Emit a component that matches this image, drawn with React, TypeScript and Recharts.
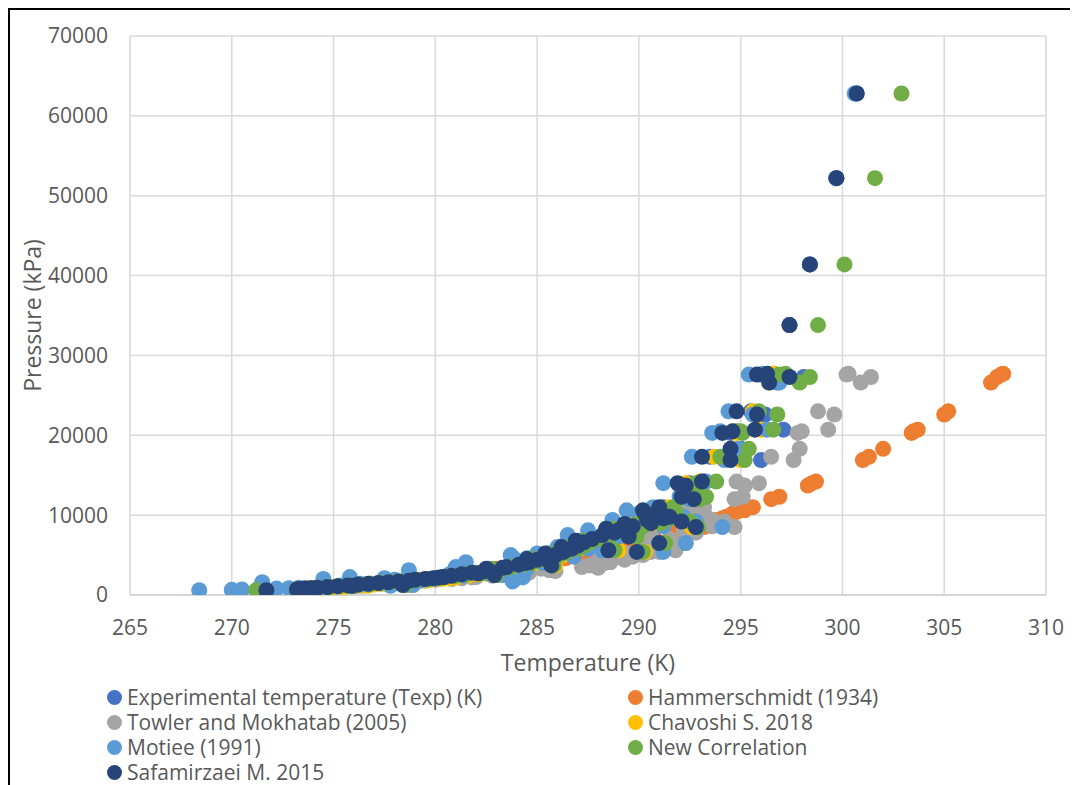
import React from 'react';
import { ScatterChart, Scatter, XAxis, YAxis, CartesianGrid, Label } from 'recharts';

const pressure = [62800,52200,41400,33800,27600,27700,26600,27300,23000,22600,20300,20500,20700,18300,17300,16900,14000,14200,13700,12300,12000,10600,10400,9800,9600,9400,9000,8600,8500,8100,7800,7500,7000,6600,6500,6200,5800,5400,5400,5000,4800,4600,4400,4100,4000,3800,3500,3400,3100,3000,2800,2600,2400,2250,2200,2100,2000,1800,1700,1600,1500,1400,1300,1200,1100,1000,900,850,800,750,700,650,600,
  1150,1900,2700,3300,4500,5200,6000,6800,7300,8300,8900,9200,10200,11000,5600,3700,2500,1250];

const tExp = [300.7,299.7,298.4,297.4,296.0,296.6,296.8,298.1,295.5,296.2,294.5,294.8,297.1,295.0,293.5,296.0,292.5,293.2,292.6,292.4,293.0,292.0,291.4,292.0,291.4,290.6,290.8,289.9,292.8,289.1,289.0,288.3,287.9,287.4,291.1,287.2,286.9,286.4,290.0,286.0,285.8,285.4,285.2,284.7,284.6,284.2,283.6,283.4,282.7,282.5,281.9,281.4,280.9,280.4,280.3,280.0,279.6,278.8,278.2,277.8,277.3,276.8,276.3,275.8,275.3,274.8,274.2,273.9,273.6,273.3,273.1,273.2,273.2,
  276.0,279.0,282.2,282.6,284.6,285.5,286.3,287.0,289.6,288.4,289.4,292.2,290.3,291.2,288.7,285.6,283.0,278.5];

const tHam = [null,null,null,null,307.8,307.9,307.3,307.6,305.2,305.0,303.4,303.5,303.7,302.0,301.3,301.0,298.5,298.7,298.3,296.9,296.5,295.2,294.8,294.3,294.1,293.8,293.4,293.0,293.2,291.9,292.1,290.7,290.4,289.8,289.5,289.0,288.4,287.8,288.4,287.2,286.9,286.4,286.0,285.4,285.2,284.8,284.1,283.9,283.1,282.8,282.2,281.7,281.1,280.6,280.5,280.2,279.8,279.0,278.4,277.9,277.4,276.9,276.4,275.9,275.4,274.9,274.3,274.0,273.7,273.4,273.2,273.3,273.3,
  276.1,279.2,282.5,283.0,285.6,286.8,288.2,289.6,290.5,292.2,293.2,293.6,294.6,295.6,288.2,284.6,281.4,276.2];

const tTow = [null,null,null,null,300.2,300.3,300.9,301.4,298.8,299.6,297.8,298.0,299.3,297.9,296.5,297.6,295.9,294.8,295.2,295.1,294.7,292.3,292.6,293.3,293.0,293.6,294.0,293.6,294.7,292.2,292.8,290.6,291.5,291.3,292.3,290.8,291.0,290.6,291.0,290.2,289.7,289.3,289.3,288.6,288.3,287.8,287.2,288.0,285.6,285.9,284.6,283.6,282.8,282.0,281.8,281.3,280.8,279.6,279.0,278.5,277.9,277.3,276.7,276.2,275.6,275.1,274.5,274.2,273.9,273.6,273.3,273.4,273.4,
  276.4,280.0,284.4,285.2,288.0,289.4,290.4,291.6,290.6,292.6,293.9,294.2,292.9,293.2,291.8,287.6,284.0,278.7];

const tCha = [null,null,null,null,296.5,296.6,296.4,297.0,295.6,295.7,294.8,294.7,296.0,294.8,293.7,295.0,292.3,293.0,292.4,292.5,292.8,291.7,291.6,291.8,291.1,290.8,290.9,290.1,292.6,289.4,289.2,288.6,288.2,287.7,291.3,287.5,287.1,286.7,290.3,286.3,286.0,285.7,285.4,285.0,284.9,284.5,283.9,283.7,283.2,283.1,282.6,282.1,281.6,281.1,281.0,280.7,280.3,279.5,278.9,278.5,278.0,277.5,277.0,276.5,276.0,275.5,274.9,274.6,274.3,274.0,273.8,273.6,273.5,
  276.7,279.7,282.9,283.3,285.2,286.0,286.7,287.3,289.9,288.7,289.8,292.3,290.6,291.5,289.0,285.9,283.3,278.9];

const tMot = [300.6,299.7,298.4,297.4,295.4,296.1,296.9,297.0,294.4,295.6,293.6,294.0,296.3,294.9,292.6,294.2,291.2,293.3,292.0,292.0,292.5,289.4,290.9,292.2,292.0,288.7,290.5,291.2,294.1,287.5,289.6,286.5,288.5,287.9,292.3,286.3,287.5,286.0,291.2,283.7,286.8,284.5,285.6,281.5,285.3,284.6,281.0,283.6,278.7,283.0,282.5,280.7,281.4,275.8,284.3,277.5,274.5,279.3,283.8,271.5,277.9,276.3,276.7,275.3,275.9,274.4,273.3,272.8,272.2,271.3,270.5,270.0,268.4,
  277.8,278.0,281.5,284.5,283.9,285.0,286.0,286.6,289.0,289.0,288.9,292.8,290.0,290.7,288.2,285.8,283.3,278.9];

const tNew = [302.9,301.6,300.1,298.8,296.9,297.2,297.9,298.4,295.9,296.8,295.1,295.0,296.6,295.4,294.0,295.2,292.8,293.8,292.9,293.3,293.0,291.4,291.8,291.8,291.6,290.9,291.1,290.2,292.9,289.3,289.3,288.6,288.0,287.6,291.3,287.3,287.0,286.5,290.2,286.1,285.9,285.5,285.3,284.8,284.7,284.3,283.7,283.5,282.8,282.6,282.0,281.5,281.0,280.5,280.4,280.1,279.7,278.9,278.3,277.8,277.3,276.8,276.3,275.8,275.3,274.8,274.2,273.9,273.6,273.3,273.2,273.2,271.2,
  276.0,279.1,282.3,282.8,284.8,285.8,286.6,287.2,289.9,288.8,289.9,292.5,290.7,291.7,288.8,285.8,283.0,278.5];

const tSaf = [300.7,299.7,298.4,297.4,295.8,296.3,296.4,297.4,294.8,295.8,294.1,294.6,295.7,294.5,293.1,294.5,291.9,293.1,292.3,292.1,292.7,290.2,290.9,291.5,291.2,290.4,290.6,289.7,292.8,289.0,288.8,288.2,287.7,287.3,291.0,287.0,286.7,286.3,289.9,285.9,285.6,285.3,285.0,284.6,284.4,284.1,283.5,283.3,282.6,282.4,281.8,281.3,280.8,280.4,280.2,279.9,279.5,278.7,278.2,277.7,277.2,276.7,276.2,275.7,275.2,274.7,274.2,273.9,273.6,273.3,273.2,273.3,271.7,
  275.9,279.0,282.1,282.5,284.5,285.4,286.2,286.9,289.5,288.4,289.3,292.1,290.3,291.0,288.5,285.7,282.9,278.4];

const xTicks = [265, 270, 275, 280, 285, 290, 295, 300, 305, 310];
const yTicks = [0, 10000, 20000, 30000, 40000, 50000, 60000, 70000];

const seriesNames = [
  'Experimental temperature (Texp) (K)',
  'Hammerschmidt (1934)',
  'Towler and Mokhatab (2005)',
  'Chavoshi S. 2018',
  'Motiee (1991)',
  'New Correlation',
  'Safamirzaei M. 2015',
];
const seriesColors = ['#4472C4', '#ED7D31', '#A5A5A5', '#FFC000', '#5B9BD5', '#70AD47', '#264478'];
const seriesTemps = [tExp, tHam, tTow, tCha, tMot, tNew, tSaf];

const build = (temps: (number | null)[]) =>
  pressure
    .map((p, i) => (temps[i] == null ? null : { t: temps[i] as number, p }))
    .filter((d) => d !== null) as { t: number; p: number }[];

const FONT = '"Open Sans", sans-serif';
const TEXT = '#595959';

export default function App() {
  const W = 1070;
  const H = 777;
  return (
    <div style={{ position: 'relative', width: W, height: H, fontFamily: FONT }}>
      <style>{`body{overflow:hidden}`}</style>
      <div
        style={{
          position: 'absolute',
          left: 0,
          top: 0,
          width: W,
          height: H,
          borderTop: '2px solid #000',
          borderLeft: '2px solid #000',
          boxSizing: 'border-box',
          pointerEvents: 'none',
          zIndex: 2,
        }}
      />
      <div style={{ position: 'absolute', left: 0, top: 0 }}>
        <ScatterChart width={W} height={H} margin={{ top: 28, right: 32, bottom: 110, left: 0 }}>
          <CartesianGrid stroke="#d9d9d9" strokeWidth={1.5} />
          <XAxis
            type="number"
            dataKey="t"
            domain={[265, 310]}
            ticks={xTicks}
            tickLine={false}
            axisLine={{ stroke: '#d0d0d0', strokeWidth: 1.5 }}
            height={80}
            tickMargin={19}
            tick={{ fill: TEXT, fontSize: 21, fontFamily: FONT }}
            allowDataOverflow
          >
            <Label
              value="Temperature (K)"
              position="insideTop"
              offset={60}
              style={{ fill: TEXT, fontSize: 23, fontFamily: FONT }}
            />
          </XAxis>
          <YAxis
            type="number"
            dataKey="p"
            domain={[0, 70000]}
            ticks={yTicks}
            tickLine={false}
            axisLine={false}
            width={122}
            tickMargin={16}
            tick={{ fill: TEXT, fontSize: 21, fontFamily: FONT }}
            allowDataOverflow
          >
            <Label
              value="Pressure (kPa)"
              angle={-90}
              position="insideLeft"
              offset={25}
              style={{ fill: TEXT, fontSize: 23, fontFamily: FONT, textAnchor: 'middle' }}
            />
          </YAxis>
          {seriesNames.map((name, i) => (
            <Scatter
              key={name}
              name={name}
              data={build(seriesTemps[i])}
              fill={seriesColors[i]}
              isAnimationActive={false}
              shape={(props: any) => (
                <circle cx={props.cx} cy={props.cy} r={8} fill={seriesColors[i]} />
              )}
            />
          ))}
        </ScatterChart>
      </div>
      {seriesNames.map((name, i) => {
        const col = i % 2;
        const row = Math.floor(i / 2);
        const cx = col === 0 ? 107 : 628;
        const cy = 689 + row * 25;
        return (
          <div
            key={name}
            style={{
              position: 'absolute',
              left: cx - 8,
              top: cy - 12,
              height: 24,
              lineHeight: '24px',
              display: 'flex',
              alignItems: 'center',
              whiteSpace: 'nowrap',
            }}
          >
            <span
              style={{
                display: 'inline-block',
                width: 15,
                height: 15,
                borderRadius: '50%',
                background: seriesColors[i],
                marginRight: 5,
              }}
            />
            <span style={{ color: TEXT, fontSize: 21, lineHeight: '24px', fontFamily: FONT }}>{name}</span>
          </div>
        );
      })}
    </div>
  );
}
